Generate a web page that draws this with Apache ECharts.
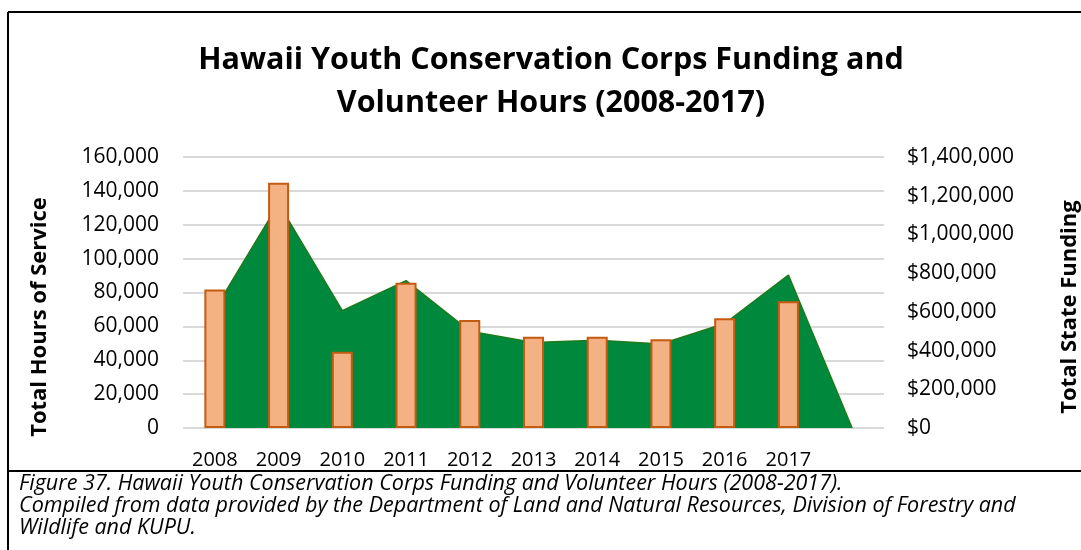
<!DOCTYPE html>
<html>
<head>
<meta charset="utf-8">
<script src="https://cdn.jsdelivr.net/npm/echarts@6/dist/echarts.min.js"></script>
<style>
html,body{margin:0;padding:0;background:#fff;}
#chart{width:1081px;height:550px;}
</style>
</head>
<body>
<div id="chart"></div>
<script>
// Data
const categories = ['2008','2009','2010','2011','2012','2013','2014','2015','2016','2017',''];
const hoursOfService = [70000, 132500, 69300, 87000, 57200, 50500, 51800, 49600, 61700, 90300, 0];
const stateFunding = [716000, 1267000, 394000, 751000, 558000, 472000, 472000, 458000, 567000, 655000, null];
const titleLines = ['Hawaii Youth Conservation Corps Funding and', 'Volunteer Hours (2008-2017)'];
const leftAxisTitle = 'Total Hours of Service';
const rightAxisTitle = 'Total State Funding';
const captionLines = [
  'Figure 37. Hawaii Youth Conservation Corps Funding and Volunteer Hours (2008-2017).',
  'Compiled from data provided by the Department of Land and Natural Resources, Division of Forestry and',
  'Wildlife and KUPU.'
];

const FONT = '"Open Sans", "Noto Sans", sans-serif';
const chart = echarts.init(document.getElementById('chart'), null, {renderer: 'canvas'});

const option = {
  animation: false,
  backgroundColor: '#ffffff',
  textStyle: {fontFamily: FONT},
  grid: {left: 183, right: 197, top: 157, bottom: 122, containLabel: false},
  xAxis: {
    type: 'category',
    data: categories,
    boundaryGap: true,
    axisLine: {show: false},
    axisTick: {show: false},
    axisLabel: {color: '#000', fontSize: 20, fontFamily: FONT, margin: 22, interval: 0}
  },
  yAxis: [
    {
      type: 'value', min: 0, max: 160000, interval: 20000,
      axisLine: {show: false}, axisTick: {show: false},
      splitLine: {show: true, lineStyle: {color: '#d9d9d9', width: 2}},
      axisLabel: {color: '#000', fontSize: 21, fontFamily: FONT, margin: 24,
        formatter: v => v.toLocaleString('en-US')}
    },
    {
      type: 'value', min: 0, max: 1400000, interval: 200000,
      axisLine: {show: false}, axisTick: {show: false},
      splitLine: {show: false},
      axisLabel: {color: '#000', fontSize: 21, fontFamily: FONT, margin: 23,
        formatter: v => '$' + v.toLocaleString('en-US')}
    }
  ],
  series: [
    {
      name: leftAxisTitle,
      type: 'line',
      yAxisIndex: 0,
      data: hoursOfService,
      symbol: 'none',
      z: 1,
      lineStyle: {color: '#1d7a1d', width: 1.5},
      areaStyle: {color: '#00893d', opacity: 1}
    },
    {
      name: rightAxisTitle,
      type: 'bar',
      yAxisIndex: 1,
      data: stateFunding,
      barWidth: 21,
      z: 3,
      itemStyle: {color: '#f4b183', borderColor: '#c55a11', borderWidth: 2}
    }
  ],
  graphic: [
    // frame
    {type: 'line', shape: {x1: 8, y1: 12, x2: 1090, y2: 12}, style: {stroke: '#000', lineWidth: 2}},
    {type: 'line', shape: {x1: 8, y1: 12, x2: 8, y2: 560}, style: {stroke: '#000', lineWidth: 2}},
    {type: 'line', shape: {x1: 8, y1: 471, x2: 1090, y2: 471}, style: {stroke: '#000', lineWidth: 2}},
    // title
    {type: 'text', x: 551, y: 60, style: {text: titleLines[0], font: 'bold 30.5px ' + FONT, fill: '#000', textAlign: 'center', textVerticalAlign: 'middle'}},
    {type: 'text', x: 551, y: 103, style: {text: titleLines[1], font: 'bold 30.5px ' + FONT, fill: '#000', textAlign: 'center', textVerticalAlign: 'middle'}},
    // axis titles
    {type: 'text', x: 40, y: 317, rotation: Math.PI / 2, style: {text: leftAxisTitle, font: 'bold 22px ' + FONT, fill: '#000', textAlign: 'center', textVerticalAlign: 'middle'}},
    {type: 'text', x: 1070, y: 307, rotation: Math.PI / 2, style: {text: rightAxisTitle, font: 'bold 22px ' + FONT, fill: '#000', textAlign: 'center', textVerticalAlign: 'middle'}},
    // caption
    {type: 'text', x: 19, y: 484, style: {text: captionLines[0], font: 'italic 21.5px ' + FONT, fill: '#000', textAlign: 'left', textVerticalAlign: 'middle'}},
    {type: 'text', x: 19, y: 506, style: {text: captionLines[1], font: 'italic 21.5px ' + FONT, fill: '#000', textAlign: 'left', textVerticalAlign: 'middle'}},
    {type: 'text', x: 19, y: 528, style: {text: captionLines[2], font: 'italic 21.5px ' + FONT, fill: '#000', textAlign: 'left', textVerticalAlign: 'middle'}}
  ]
};
chart.setOption(option);
</script>
</body>
</html>
